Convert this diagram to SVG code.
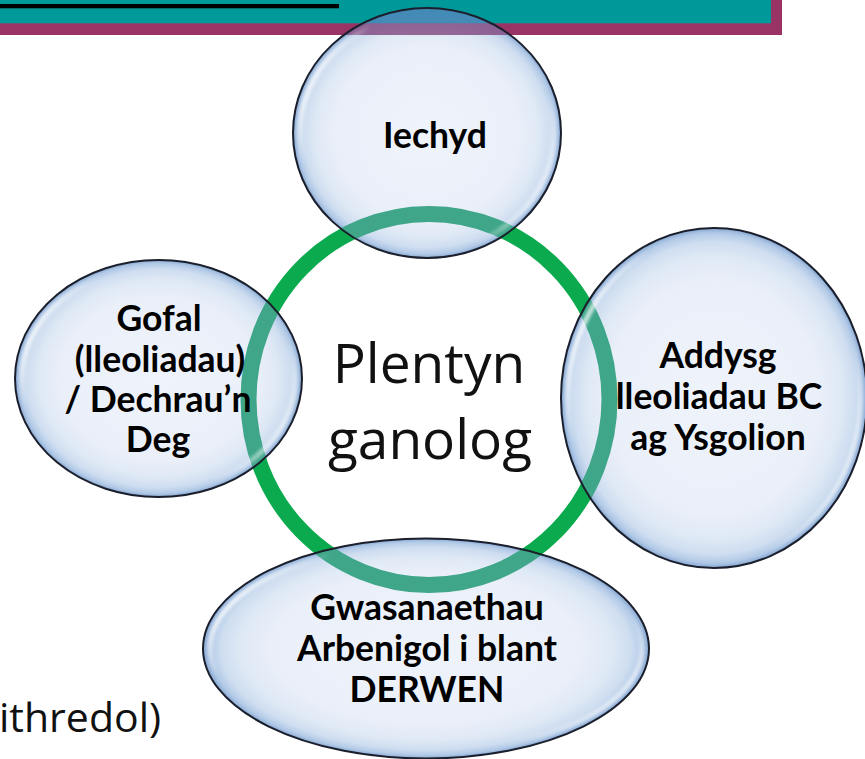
<svg xmlns="http://www.w3.org/2000/svg" xmlns:xlink="http://www.w3.org/1999/xlink" width="865" height="759" viewBox="0 0 865 759">
  <style>
    .lbl { font-family: Lato, "Liberation Sans", sans-serif; font-weight: 700; font-size: 35.5px; fill: #000; text-anchor: middle; }
    .ctr { font-family: "Open Sans", "Liberation Sans", sans-serif; font-size: 55px; fill: #111; text-anchor: middle; }
    .body { font-family: "Open Sans", "Liberation Sans", sans-serif; font-size: 41px; fill: #111; }
    .base { fill: url(#bubbleFill); }
    .hi { fill: none; stroke: url(#hiGrad); stroke-width: 5; filter: url(#soft); }
    .rim { fill: none; stroke: #1b1f2c; stroke-width: 2; }
    .ringTint { stroke: #40A68A; stroke-width: 16; }
  </style>
  <defs>
    <radialGradient id="bubbleFill" cx="50%" cy="50%" r="50%">
      <stop offset="0" stop-color="#EEF3FB" stop-opacity="0.94"/>
      <stop offset="0.7" stop-color="#E8EEF8" stop-opacity="0.93"/>
      <stop offset="0.84" stop-color="#D8E4F3" stop-opacity="0.84"/>
      <stop offset="0.92" stop-color="#BED2EB" stop-opacity="0.75"/>
      <stop offset="0.97" stop-color="#97B7DE" stop-opacity="0.75"/>
      <stop offset="1" stop-color="#6E95C9" stop-opacity="0.85"/>
    </radialGradient>
    <linearGradient id="hiGrad" x1="0" y1="0.3" x2="1" y2="0.75">
      <stop offset="0" stop-color="#fff" stop-opacity="0.95"/>
      <stop offset="0.14" stop-color="#fff" stop-opacity="0"/>
      <stop offset="0.82" stop-color="#fff" stop-opacity="0"/>
      <stop offset="1" stop-color="#fff" stop-opacity="0.8"/>
    </linearGradient>
    <filter id="soft" x="-10%" y="-10%" width="120%" height="120%">
      <feGaussianBlur stdDeviation="1.5"/>
    </filter>
    <ellipse id="ringShape" cx="429" cy="399.5" rx="180.5" ry="185.5" fill="none"/>
    <clipPath id="cTop"><ellipse cx="427" cy="133" rx="134" ry="125"/></clipPath>
    <clipPath id="cLeft"><ellipse cx="158.5" cy="378.5" rx="143.5" ry="118.5"/></clipPath>
    <clipPath id="cRight"><ellipse cx="714" cy="398" rx="153" ry="170"/></clipPath>
    <clipPath id="cBottom"><ellipse cx="426" cy="648.5" rx="223" ry="110"/></clipPath>
  </defs>

  <g id="banner">
    <rect x="0" y="0" width="782" height="35" fill="#993366"/>
    <rect x="0" y="0" width="771" height="23.3" fill="#009999"/>
    <rect x="0" y="4" width="339" height="4.3" fill="#000"/>
  </g>

  <text class="body" x="-1" y="732">ithredol)</text>

  <g id="centre">
    <use xlink:href="#ringShape" href="#ringShape" stroke="#0BAA4E" stroke-width="16"/>
    <text class="ctr" x="429" y="383">Plentyn</text>
    <text class="ctr" x="430" y="459">ganolog</text>
  </g>

  <g id="node-iechyd">
    <ellipse class="base" cx="427" cy="133" rx="134" ry="125"/>
    <g clip-path="url(#cTop)">
      <rect x="0" y="0" width="782" height="35" fill="#8B5B8E" opacity="0.9"/>
      <rect x="0" y="0" width="771" height="23.3" fill="#3C8FB9" opacity="0.9"/>
      <use xlink:href="#ringShape" href="#ringShape" class="ringTint"/>
    </g>
    <ellipse class="hi" cx="427" cy="133" rx="127" ry="118"/>
    <ellipse class="rim" cx="427" cy="133" rx="134" ry="125"/>
    <text class="lbl" x="435" y="148">Iechyd</text>
  </g>

  <g id="node-gofal">
    <ellipse class="base" cx="158.5" cy="378.5" rx="143.5" ry="118.5"/>
    <use xlink:href="#ringShape" href="#ringShape" class="ringTint" clip-path="url(#cLeft)"/>
    <ellipse class="hi" cx="158.5" cy="378.5" rx="136.5" ry="111.5"/>
    <ellipse class="rim" cx="158.5" cy="378.5" rx="143.5" ry="118.5"/>
    <text class="lbl" x="159" y="331">Gofal</text>
    <text class="lbl" x="160" y="371.5">(lleoliadau)</text>
    <text class="lbl" x="158" y="412">/ Dechrau’n</text>
    <text class="lbl" x="158" y="452">Deg</text>
  </g>

  <g id="node-addysg">
    <ellipse class="base" cx="714" cy="398" rx="153" ry="170"/>
    <use xlink:href="#ringShape" href="#ringShape" class="ringTint" clip-path="url(#cRight)"/>
    <ellipse class="hi" cx="714" cy="398" rx="146" ry="163"/>
    <ellipse class="rim" cx="714" cy="398" rx="153" ry="170"/>
    <text class="lbl" x="718" y="368">Addysg</text>
    <text class="lbl" x="719" y="409">lleoliadau BC</text>
    <text class="lbl" x="718" y="450">ag Ysgolion</text>
  </g>

  <g id="node-derwen">
    <ellipse class="base" cx="426" cy="648.5" rx="223" ry="110"/>
    <use xlink:href="#ringShape" href="#ringShape" class="ringTint" clip-path="url(#cBottom)"/>
    <ellipse class="hi" cx="426" cy="648.5" rx="216" ry="103"/>
    <ellipse class="rim" cx="426" cy="648.5" rx="223" ry="110"/>
    <text class="lbl" x="427" y="620">Gwasanaethau</text>
    <text class="lbl" x="427" y="661">Arbenigol i blant</text>
    <text class="lbl" x="427" y="702">DERWEN</text>
  </g>
</svg>
